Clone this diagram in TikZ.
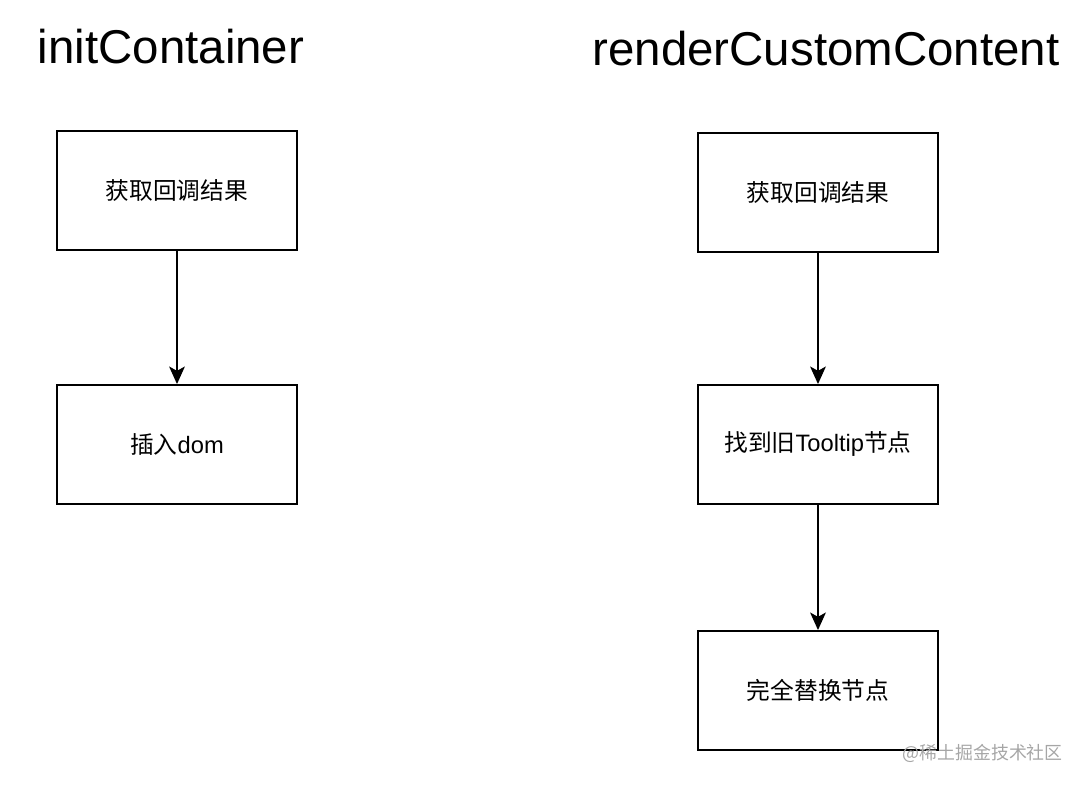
\documentclass[tikz,border=0pt]{standalone}
\usepackage{fontspec}
\setmainfont{Liberation Sans}
\newfontfamily\cjk{Noto Sans CJK SC}
\usetikzlibrary{arrows.meta}
\tikzset{
  stepbox/.style={draw=black, line width=1.1pt, minimum width=4.8cm, minimum height=2.38cm, font=\fontsize{13.5}{16}\selectfont},
  flow/.style={draw=black, line width=0.8pt, -{Stealth[length=10pt,width=9pt,inset=2.5pt]}},
  title/.style={font=\fontsize{27}{32}\selectfont}
}
\begin{document}
\begin{tikzpicture}[x=0.02cm,y=-0.02cm]
    \useasboundingbox (0,0) rectangle (1086,786);

    % Titles
    \node[title] (tleft) at (171,47) {initContainer};
    \node[title] (tright) at (826,49) {renderCustomContent};

    % Boxes
    \node[stepbox] (L1) at (177,190.5) {\cjk 获取回调结果};
    \node[stepbox] (L2) at (177,444.5) {{\cjk 插入}dom};
    \node[stepbox] (R1) at (818,192.5) {\cjk 获取回调结果};
    \node[stepbox] (R2) at (818,444.5) {{\cjk 找到旧}Tooltip{\cjk 节点}};
    \node[stepbox] (R3) at (818,690.5) {\cjk 完全替换节点};

    % Edges
    \foreach \source/\target in {L1/L2, R1/R2, R2/R3} {
            \draw[flow] (\source) -- (\target);
        }

    % Watermark
    \node[text=black!35, font=\fontsize{10.2}{12}\selectfont\cjk, anchor=east] (mark) at (1069,753) {@稀土掘金技术社区};
\end{tikzpicture}
\end{document}
